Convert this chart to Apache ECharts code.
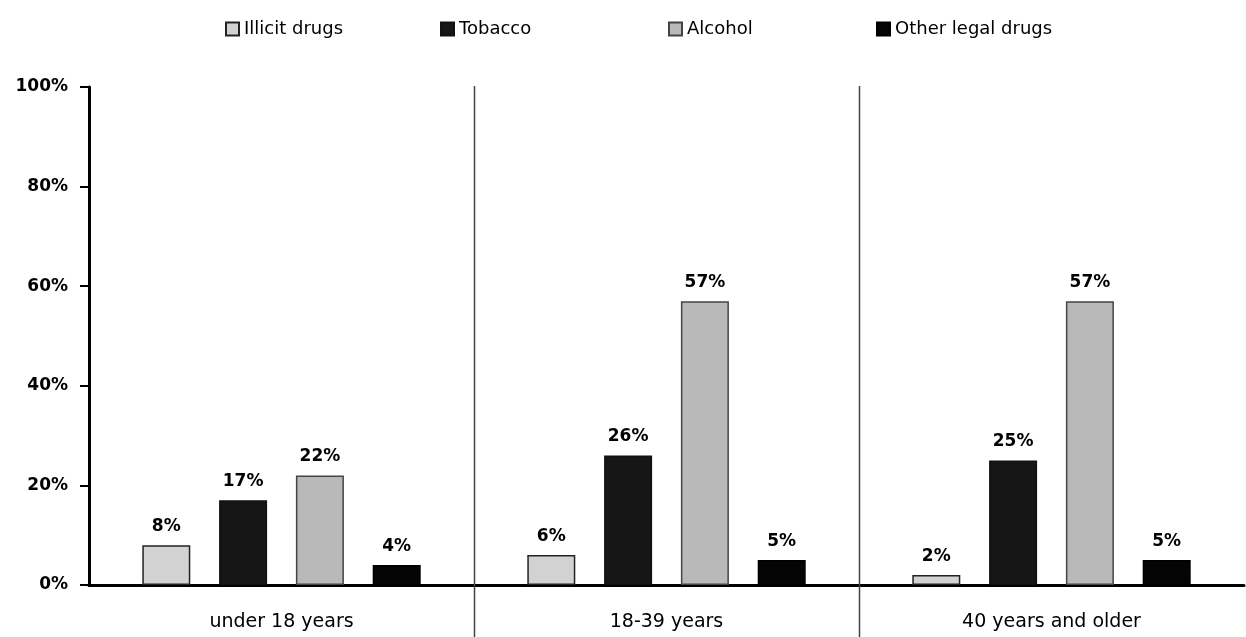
<!DOCTYPE html>
<html>
<head>
<meta charset="utf-8">
<script src="https://cdn.jsdelivr.net/npm/echarts@6/dist/echarts.min.js"></script>
<style>
  html, body { margin: 0; padding: 0; background: #fff; }
  #chart { width: 1246px; height: 637px; }
</style>
</head>
<body>
<div id="chart"></div>
<script>
// Age groups along the x axis
const categories = ['under 18 years', '18-39 years', '40 years and older'];
// Share of respondents per substance (%)
const illicitDrugs = [8, 6, 2];
const tobacco = [17, 26, 25];
const alcohol = [22, 57, 57];
const otherLegalDrugs = [4, 5, 5];
// Y axis ticks
const yTicks = [0, 20, 40, 60, 80, 100];

const seriesNames = ['Illicit drugs', 'Tobacco', 'Alcohol', 'Other legal drugs'];
const seriesData = [illicitDrugs, tobacco, alcohol, otherLegalDrugs];
const fills = ['#d2d2d2', '#161616', '#b9b9b9', '#050505'];
const borders = ['#222', '#111', '#444', '#000'];
const legendLeft = [220, 435, 663, 871];

const FONT = '"DejaVu Sans", Verdana, sans-serif';

const chart = echarts.init(document.getElementById('chart'));

const option = {
  animation: false,
  backgroundColor: '#fff',
  legend: seriesNames.map((n, i) => ({
    data: [n],
    left: legendLeft[i],
    top: 15,
    itemWidth: 13,
    itemHeight: 13,
    itemGap: 5,
    icon: 'rect',
    textStyle: { fontFamily: FONT, fontSize: 18, color: '#000', padding: [0, 0, 0, 0] }
  })),
  grid: { left: 89, right: 2, top: 87, bottom: 52, containLabel: false },
  xAxis: {
    type: 'category',
    data: categories,
    axisLine: { lineStyle: { color: '#000', width: 3 } },
    axisTick: { show: false },
    axisLabel: { fontFamily: FONT, fontSize: 19, color: '#000', margin: 28 }
  },
  yAxis: {
    type: 'value',
    min: 0, max: 100, interval: 20,
    axisLine: { show: true, lineStyle: { color: '#000', width: 3 } },
    axisTick: { show: true, length: 9, lineStyle: { color: '#000', width: 2 } },
    splitLine: { show: false },
    axisLabel: {
      fontFamily: FONT, fontSize: 17, fontWeight: 'bold', color: '#000', margin: 21,
      formatter: v => (yTicks.indexOf(v) >= 0 ? v + '%' : '')
    }
  },
  series: seriesNames.map((n, i) => ({
    name: n,
    type: 'bar',
    data: seriesData[i],
    barWidth: 48,
    barGap: '60%',
    itemStyle: { color: fills[i], borderColor: borders[i], borderWidth: 1.5 },
    label: {
      show: true, position: 'top', distance: 10,
      fontFamily: FONT, fontSize: 17, fontWeight: 'bold', color: '#000',
      formatter: p => p.value + '%'
    }
  }))
};

chart.setOption(option);

// Vertical separators between age groups, placed at the band boundaries
function drawSeparators() {
  const lines = [];
  for (let i = 0; i < categories.length - 1; i++) {
    const a = chart.convertToPixel({ xAxisIndex: 0 }, categories[i]);
    const b = chart.convertToPixel({ xAxisIndex: 0 }, categories[i + 1]);
    const x = Math.round((a + b) / 2) + 0.5;
    const yTop = chart.convertToPixel({ yAxisIndex: 0 }, 100);
    lines.push({
      type: 'line',
      shape: { x1: x, y1: yTop - 1, x2: x, y2: 637 },
      style: { stroke: '#444', lineWidth: 1.5 },
      z: 1
    });
  }
  chart.setOption({ graphic: lines });
}
drawSeparators();
</script>
</body>
</html>
